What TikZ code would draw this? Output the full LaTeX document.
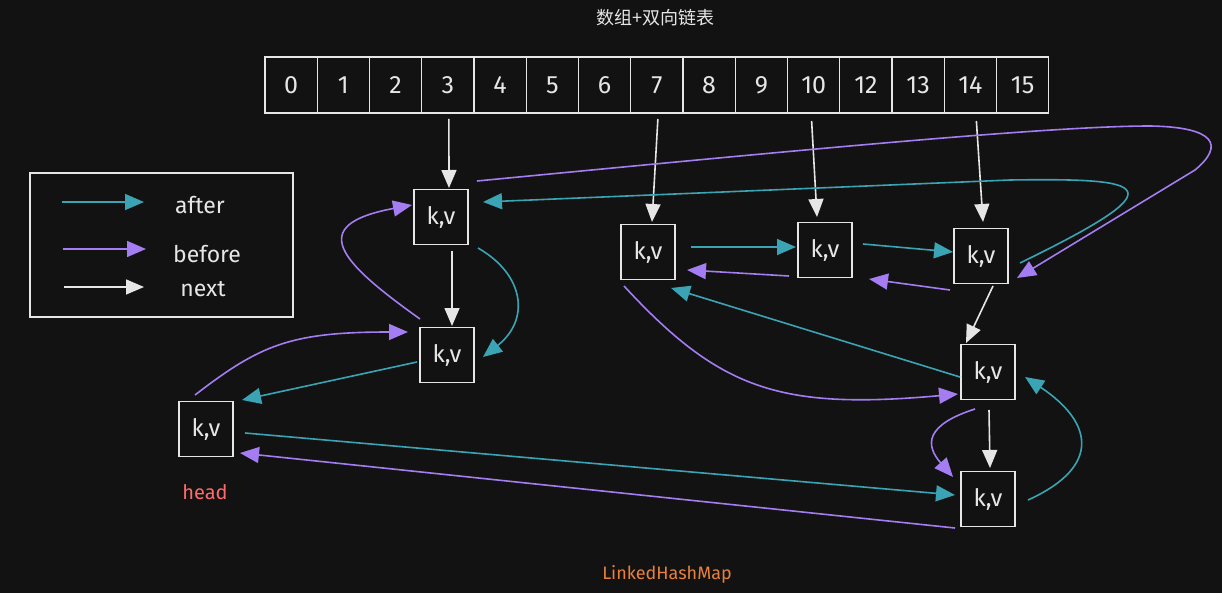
\documentclass[tikz,border=0pt]{standalone}
\usepackage{fontspec}
\setmainfont{Fira Sans}
\newfontfamily\cjkf{Noto Sans CJK SC}
\usetikzlibrary{arrows.meta,calc}
\definecolor{bg}{HTML}{121212}
\definecolor{fg}{HTML}{E6E6E6}
\definecolor{aftc}{HTML}{3BA4B4}
\definecolor{befc}{HTML}{A47DF2}
\definecolor{headc}{HTML}{FF6B6B}
\definecolor{mapc}{HTML}{E8803C}
\begin{document}
\begin{tikzpicture}[x=1pt,y=-1pt,
  kv/.style={draw=fg,line width=1.4pt,minimum width=54pt,minimum height=55pt,inner sep=0pt,text=fg,font=\fontsize{24}{24}\selectfont},
  cell/.style={draw=fg,line width=1.4pt,minimum width=52.25pt,minimum height=56pt,inner sep=0pt,text=fg,font=\fontsize{25}{25}\selectfont},
  lbl/.style={text=fg,font=\fontsize{23}{23}\selectfont,inner sep=0pt},
  nxt/.style={draw=fg,line width=1.6pt,-{Triangle[length=18pt,width=15pt]}},
  aft/.style={draw=aftc,line width=1.6pt,-{Triangle[length=19pt,width=16pt]}},
  bef/.style={draw=befc,line width=1.6pt,-{Triangle[length=19pt,width=16pt]}}]
\useasboundingbox (0,0) rectangle (1222,593);
\fill[bg] (0,0) rectangle (1222,593);

% title
\node[text=fg,font=\cjkf\fontsize{18}{18}\selectfont,inner sep=0pt] (title) at (655,18) {数组+双向链表};

% array
\foreach \lab [count=\i from 0] in {0,1,2,3,4,5,6,7,8,9,10,12,13,14,15}{
  \node[cell] (c\i) at ({265+52.25*(\i+0.5)},85) {\lab};
}

% legend
\node[draw=fg,line width=1.4pt,minimum width=263pt,minimum height=144pt,inner sep=0pt] (legend) at (161.5,245) {};
\coordinate (la1) at (62,202); \coordinate (la2) at (144,202);
\coordinate (lb1) at (63,249); \coordinate (lb2) at (146,249);
\coordinate (ln1) at (64,287); \coordinate (ln2) at (144,287);
\draw[aft] (la1) -- (la2);
\draw[bef] (lb1) -- (lb2);
\draw[nxt] (ln1) -- (ln2);
\node[lbl] (tafter) at (200,205) {after};
\node[lbl] (tbefore) at (207,254) {before};
\node[lbl] (tnext) at (203,289) {next};

% entry nodes
\node[kv] (A) at (441,217) {k,v};
\node[kv] (B) at (447,355) {k,v};
\node[kv] (H) at (206,429) {k,v};
\node[kv] (C) at (648,252) {k,v};
\node[kv] (D) at (825,250) {k,v};
\node[kv] (E) at (981,256) {k,v};
\node[kv] (F) at (988,372) {k,v};
\node[kv] (G) at (988,499) {k,v};
\node[text=headc,font=\fontsize{20}{20}\selectfont,inner sep=0pt] (thead) at (205,492) {head};
\node[text=mapc,font=\fontsize{18}{18}\selectfont,inner sep=0pt] (tmap) at (667,574) {LinkedHashMap};

% next arrows
\draw[nxt] ($(c3)+(1,34)$) -- ($(A)+(8,-29)$);
\draw[nxt] ($(A)+(11,34)$) -- ($(B)+(5,-29)$);
\draw[nxt] ($(c7)+(1,34)$) -- ($(C)+(4,-30)$);
\draw[nxt] ($(c10)+(-2,36)$) -- ($(D)+(-8,-33)$);
\draw[nxt] ($(c13)+(6,36)$) -- ($(E)+(2,-34)$);
\draw[nxt] ($(E)+(12,30)$) -- ($(F)+(-22,-29)$);
\draw[nxt] ($(F)+(1,38)$) -- ($(G)+(2,-31)$);

% after arrows
\draw[aft] ($(A)+(37,31)$) .. controls (525,275) and (530,320) .. ($(B)+(36,2)$);
\draw[aft] ($(B)+(-30,7)$) -- ($(H)+(36,-29)$);
\draw[aft] ($(H)+(39,4)$) -- ($(G)+(-33,-4)$);
\draw[aft] ($(G)+(40,1)$) .. controls (1105,465) and (1090,420) .. ($(F)+(37,5)$);
\draw[aft] ($(F)+(-28,5)$) -- ($(C)+(23,36)$);
\draw[aft] ($(C)+(43,-5)$) -- ($(D)+(-29,-3)$);
\draw[aft] ($(D)+(38,-6)$) -- ($(E)+(-28,-4)$);
\draw[aft] ($(E)+(39,7)$) .. controls (1180,185) and (1150,178) .. (1010,180) -- ($(A)+(42,-15)$);

% before arrows
\draw[bef] ($(B)+(-27,-36)$) .. controls (340,262) and (305,225) .. ($(A)+(-29,-12)$);
\draw[bef] ($(H)+(-11,-34)$) .. controls (260,345) and (290,332) .. ($(B)+(-39,-23)$);
\draw[bef] ($(G)+(-33,29)$) -- ($(H)+(34,24)$);
\draw[bef] ($(F)+(-13,37)$) .. controls (925,425) and (925,445) .. ($(G)+(-35,-22)$);
\draw[bef] ($(C)+(-24,34)$) .. controls (720,390) and (780,410) .. ($(F)+(-30,22)$);
\draw[bef] ($(E)+(-31,34)$) -- ($(D)+(44,29)$);
\draw[bef] ($(D)+(-36,26)$) -- ($(C)+(39,18)$);
\draw[bef] ($(A)+(36,-36)$) .. controls (800,150) and (1050,126) .. (1150,126) .. controls (1215,127) and (1225,145) .. (1195,170) -- ($(E)+(36,22)$);
\end{tikzpicture}
\end{document}
